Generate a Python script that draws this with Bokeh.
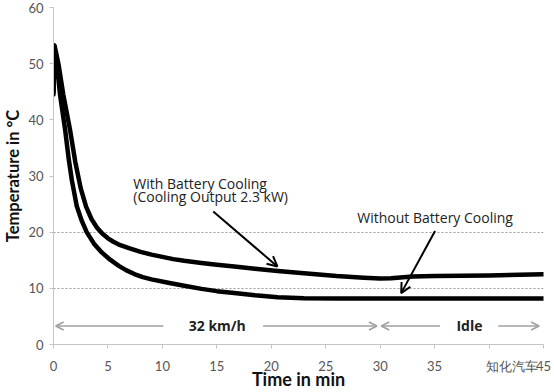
from bokeh.plotting import figure
from bokeh.models import Arrow, OpenHead, Label, FixedTicker
from bokeh.embed import file_html
from bokeh.resources import INLINE

# ---- data ----
t_upper = [0, 0.1, 0.45, 0.9, 1.52, 2.0, 2.5, 3.0, 3.5, 4.0, 4.5, 5, 5.5, 6, 7, 8, 9, 10, 11, 12,
           13.6, 15, 16.6, 18.5, 20.6, 23, 26, 28.5, 30, 31, 33, 35, 40, 45]
temp_upper = [45, 53.2, 50, 44.5, 38.2, 32.5, 27.8, 24.5, 22.3, 20.8, 19.7, 18.9, 18.3, 17.8, 17.1,
              16.5, 16.0, 15.6, 15.2, 14.9, 14.5, 14.2, 13.9, 13.5, 13.1, 12.7, 12.2, 11.9, 11.75,
              11.8, 12.1, 12.2, 12.3, 12.5]
t_lower = [0, 0.05, 0.3, 0.6, 1.07, 1.4, 1.68, 2.14, 2.6, 3.05, 3.7, 4.43, 5.2, 6, 6.7, 7.48, 8.2,
           9, 10.54, 12, 13.6, 15, 16.6, 18.5, 20.6, 23, 26, 30, 35, 40, 45]
temp_lower = [44.5, 53.3, 50, 44.5, 38.2, 33.0, 29.3, 24.6, 22.0, 20.0, 18.0, 16.4, 15.1, 14.0,
              13.2, 12.5, 12.0, 11.6, 11.0, 10.45, 9.9, 9.5, 9.15, 8.75, 8.4, 8.25, 8.2, 8.2, 8.2,
              8.2, 8.2]

x_ticks = [0, 5, 10, 15, 20, 25, 30, 35, 40, 45]
y_ticks = [0, 10, 20, 30, 40, 50, 60]
ref_lines = [10, 20]

x_title = "Time in min"
y_title = "Temperature in °C"
label_with = ["With Battery Cooling", "(Cooling Output 2.3 kW)"]
label_without = "Without Battery Cooling"
phase_labels = ["32 km/h", "Idle"]
phase_label_x = [15.04, 38.2]
phase_y = 3.3
# arrows: (x_start, y_start, x_end, y_end)
arrow_with = (14.67, 23.7, 20.56, 13.9)
arrow_without = (35.04, 20.2, 31.93, 9.15)
phase_arrows = [(10.1, 0.2), (19.25, 29.7), (35.5, 30.1), (40.85, 44.6)]
watermark = "知化汽车"          # covers the "40" tick label in the source image
watermark_tick = 40

p = figure(width=554, height=392, output_backend="svg", toolbar_location=None,
           x_range=(0, 45), y_range=(0, 60),
           min_border_left=52, min_border_right=11, min_border_top=7, min_border_bottom=46)
p.outline_line_color = None
p.background_fill_color = "white"
p.border_fill_color = "white"

p.xgrid.grid_line_color = None
p.ygrid.ticker = FixedTicker(ticks=ref_lines)
p.ygrid.grid_line_color = "#9a9a9a"
p.ygrid.grid_line_dash = "2 2"
p.ygrid.grid_line_width = 1

for ax in (p.xaxis[0], p.yaxis[0]):
    ax.axis_line_color = "#c4c4c4"
    ax.major_tick_line_color = "#c4c4c4"
    ax.minor_tick_line_color = None
    ax.major_tick_out = 4
    ax.major_tick_in = 0
    ax.major_label_text_color = "#555555"
    ax.major_label_text_font = "Lato"
    ax.major_label_text_font_size = "13px"
    ax.axis_label_text_font = "Lato"
    ax.axis_label_text_font_style = "bold"
    ax.axis_label_text_color = "#111111"

p.xaxis.ticker = FixedTicker(ticks=x_ticks)
p.yaxis.ticker = FixedTicker(ticks=y_ticks)
p.xaxis.axis_label = x_title
p.xaxis.axis_label_text_font_size = "18px"
p.xaxis.major_label_standoff = 9
p.xaxis.axis_label_standoff = -9
p.xaxis.major_label_overrides = {watermark_tick: "\u3000\u3000\u3000\u00a0\u00a0" + watermark}
p.yaxis.axis_label = y_title
p.yaxis.axis_label_text_font_size = "16.5px"
p.yaxis.major_label_standoff = 6
p.yaxis.axis_label_standoff = 2

p.line(t_upper, temp_upper, line_color="black", line_width=4.5, line_join="round", line_cap="round")
p.line(t_lower, temp_lower, line_color="black", line_width=4.5, line_join="round", line_cap="round")

font = "Open Sans"
p.add_layout(Label(x=7.33, y=28.6, text=label_with[0], text_font=font, text_font_size="14px",
                   text_baseline="middle", text_color="#222222"))
p.add_layout(Label(x=7.33, y=26.3, text=label_with[1], text_font=font, text_font_size="14px",
                   text_baseline="middle", text_color="#222222"))
p.add_layout(Label(x=27.9, y=22.7, text=label_without, text_font=font, text_font_size="14px",
                   text_baseline="middle", text_color="#222222"))

for (xs, ys, xe, ye) in (arrow_with, arrow_without):
    p.add_layout(Arrow(x_start=xs, y_start=ys, x_end=xe, y_end=ye, line_color="black", line_width=2,
                       end=OpenHead(size=10, line_width=2, line_color="black")))

for (xs, xe) in phase_arrows:
    p.add_layout(Arrow(x_start=xs, y_start=phase_y, x_end=xe, y_end=phase_y, line_color="#a0a0a0",
                       line_width=1.5, end=OpenHead(size=8, line_width=1.5, line_color="#a0a0a0")))

for txt, xx in zip(phase_labels, phase_label_x):
    p.add_layout(Label(x=xx, y=phase_y, text=txt, text_font=font, text_font_style="bold",
                       text_font_size="14px", text_align="center", text_baseline="middle",
                       text_color="#222222"))

open("out.html", "w").write(file_html(p, INLINE))
